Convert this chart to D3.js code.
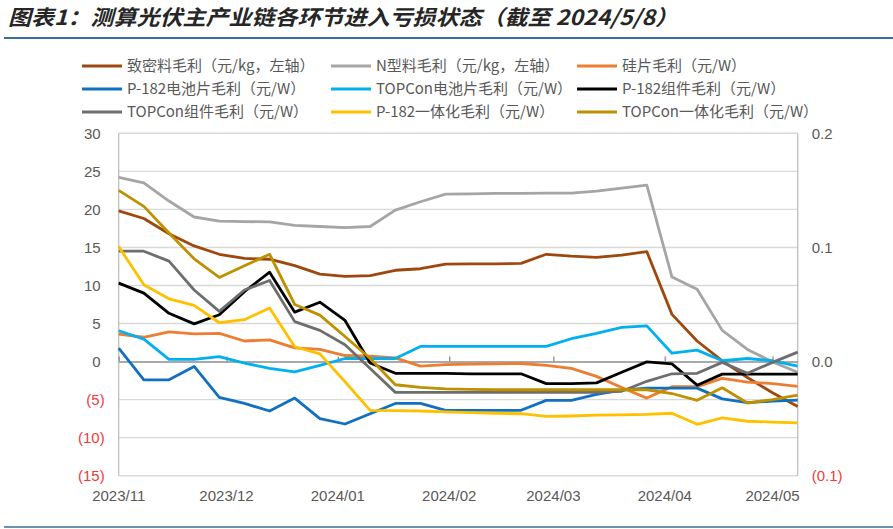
<!DOCTYPE html>
<html><head><meta charset="utf-8">
<script src="https://cdn.jsdelivr.net/npm/d3@7"></script>
<style>
html,body{margin:0;padding:0;background:#fff;}
svg{display:block;}
</style></head>
<body>
<svg id="chart" width="893" height="529"></svg>
<script>
// ---------- DATA ----------
const dates = ["2023-11-01","2023-11-08","2023-11-15","2023-11-22","2023-11-29","2023-12-06","2023-12-13","2023-12-20","2023-12-27",
"2024-01-03","2024-01-10","2024-01-17","2024-01-24","2024-01-31","2024-02-07","2024-02-14","2024-02-21","2024-02-28",
"2024-03-06","2024-03-13","2024-03-20","2024-03-27","2024-04-03","2024-04-10","2024-04-17","2024-04-24","2024-05-01","2024-05-08"];

// left axis (元/kg)
const polyDense = [19.8,18.8,16.8,15.2,14.1,13.55,13.45,12.6,11.5,11.2,11.3,12.0,12.2,12.8,12.85,12.85,12.9,14.1,13.85,13.7,14.0,14.45,6.2,2.7,0.1,-2.1,-4.1,-5.9];
const polyN = [24.2,23.5,21.1,19.0,18.45,18.4,18.35,17.9,17.75,17.6,17.75,19.9,21.0,22.0,22.05,22.1,22.1,22.15,22.15,22.4,22.8,23.2,11.1,9.5,4.1,1.6,-0.05,-1.4];
// right axis (元/W)
const wafer = [0.0240,0.0213,0.0260,0.0243,0.0247,0.0180,0.0190,0.0120,0.0107,0.0053,0.0047,0.0033,-0.0040,-0.0027,-0.0023,-0.0020,-0.0017,-0.0033,-0.0060,-0.0130,-0.0227,-0.0320,-0.0220,-0.0220,-0.0147,-0.0180,-0.0193,-0.0217];
const cellP182 = [0.0117,-0.0160,-0.0160,-0.0043,-0.0313,-0.0367,-0.0433,-0.0320,-0.0500,-0.0547,-0.0457,-0.0367,-0.0367,-0.0427,-0.0427,-0.0427,-0.0427,-0.0340,-0.0340,-0.0287,-0.0250,-0.0233,-0.0233,-0.0233,-0.0327,-0.0360,-0.0347,-0.0337];
const cellTOPCon = [0.0270,0.0197,0.0020,0.0020,0.0043,-0.0013,-0.0060,-0.0090,-0.0033,0.0027,0.0027,0.0027,0.0133,0.0133,0.0133,0.0133,0.0133,0.0133,0.0200,0.0247,0.0300,0.0313,0.0073,0.0100,0.0007,0.0027,0.0007,-0.0040];
const moduleP182 = [0.0687,0.0600,0.0423,0.0330,0.0410,0.0613,0.0783,0.0433,0.0520,0.0360,-0.0013,-0.0103,-0.0103,-0.0103,-0.0107,-0.0107,-0.0107,-0.0193,-0.0193,-0.0187,-0.0093,-0.0003,-0.0020,-0.0207,-0.0110,-0.0110,-0.0110,-0.0110];
const moduleTOPCon = [0.0967,0.0967,0.0880,0.0627,0.0440,0.0627,0.0710,0.0350,0.0273,0.0147,-0.0060,-0.0270,-0.0270,-0.0270,-0.0270,-0.0270,-0.0270,-0.0270,-0.0270,-0.0270,-0.0260,-0.0173,-0.0107,-0.0103,-0.0007,-0.0103,-0.0007,0.0083];
const integP182 = [0.1007,0.0673,0.0550,0.0493,0.0340,0.0367,0.0470,0.0130,0.0067,-0.0177,-0.0427,-0.0430,-0.0433,-0.0440,-0.0447,-0.0453,-0.0457,-0.0480,-0.0477,-0.0470,-0.0467,-0.0463,-0.0453,-0.0550,-0.0493,-0.0523,-0.0530,-0.0537];
const integTOPCon = [0.1500,0.1360,0.1127,0.0900,0.0737,0.0840,0.0940,0.0500,0.0407,0.0220,0.0027,-0.0203,-0.0227,-0.0240,-0.0243,-0.0247,-0.0247,-0.0247,-0.0247,-0.0247,-0.0247,-0.0247,-0.0280,-0.0340,-0.0230,-0.0363,-0.0333,-0.0293];

const seriesNames = ["致密料毛利（元/kg，左轴）","N型料毛利（元/kg，左轴）","硅片毛利（元/W）",
  "P-182电池片毛利（元/W）","TOPCon电池片毛利（元/W）","P-182组件毛利（元/W）",
  "TOPCon组件毛利（元/W）","P-182一体化毛利（元/W）","TOPCon一体化毛利（元/W）"];
const seriesColors = ["#9E480E","#A5A5A5","#ED7D31","#1170C0","#00B0F0","#000000","#6E6E6E","#FFC000","#BF9000"];
const seriesValues = [polyDense,polyN,wafer,cellP182,cellTOPCon,moduleP182,moduleTOPCon,integP182,integTOPCon];
const seriesAxis = ["L","L","R","R","R","R","R","R","R"];

const leftTicks = [30,25,20,15,10,5,0,-5,-10,-15];
const rightTicks = [0.2,0.1,0.0,-0.1];
const xTickDates = ["2023-11-01","2023-12-01","2024-01-01","2024-02-01","2024-03-01","2024-04-01","2024-05-01"];
const xTickLabels = ["2023/11","2023/12","2024/01","2024/02","2024/03","2024/04","2024/05"];
const title = "图表1：测算光伏主产业链各环节进入亏损状态（截至 2024/5/8）";

// ---------- LAYOUT ----------
const svg = d3.select("#chart");
const L = 118.7, R = 797.7, T = 133.3, B = 475.7;
const parse = d3.utcParse("%Y-%m-%d");
const x = d3.scaleUtc().domain([parse(dates[0]), parse(dates[dates.length-1])]).range([L, R]);
const yL = d3.scaleLinear().domain([-15, 30]).range([B, T]);
const yR = d3.scaleLinear().domain([-0.1, 0.2]).range([B, T]);
const FONT = "'Liberation Sans', Arial, 'Noto Sans CJK SC', sans-serif";
const CJK = "'Noto Sans CJK SC', 'Liberation Sans', sans-serif";

// title
svg.append("text").attr("x", 8).attr("y", 25)
  .attr("font-family", CJK).attr("font-size", 21).attr("font-weight", "bold")
  .attr("font-style", "italic").attr("fill", "#262626")
  .attr("textLength", 670).attr("lengthAdjust", "spacingAndGlyphs")
  .text(title);
svg.append("line").attr("x1", 4).attr("x2", 893).attr("y1", 38).attr("y2", 38)
  .attr("stroke", "#3B6E97").attr("stroke-width", 2.2);
svg.append("line").attr("x1", 4).attr("x2", 893).attr("y1", 527).attr("y2", 527)
  .attr("stroke", "#3B6E97").attr("stroke-width", 1.5);

// gridlines
svg.append("g").selectAll("line").data(leftTicks.filter(d => d !== 0)).join("line")
  .attr("x1", L).attr("x2", R).attr("y1", d => yL(d)).attr("y2", d => yL(d))
  .attr("stroke", "#D9D9D9").attr("stroke-width", 1.4);
// vertical axis lines
svg.append("line").attr("x1", L).attr("x2", L).attr("y1", T).attr("y2", B).attr("stroke", "#BFBFBF").attr("stroke-width", 1.3);
svg.append("line").attr("x1", R).attr("x2", R).attr("y1", T).attr("y2", B).attr("stroke", "#BFBFBF").attr("stroke-width", 1.3);

// x axis on zero line
const xAxis = d3.axisTop(x).tickValues(xTickDates.map(parse)).tickSize(5).tickSizeOuter(0).tickFormat("");
const gx = svg.append("g").attr("transform", `translate(0,${yL(0)})`).call(xAxis);
gx.select(".domain").attr("stroke", "#8C8C8C").attr("stroke-width", 1.6);
gx.selectAll(".tick line").attr("stroke", "#8C8C8C").attr("stroke-width", 1.3);

// x labels at bottom
svg.append("g").selectAll("text").data(xTickDates).join("text")
  .attr("x", d => x(parse(d))).attr("y", 501)
  .attr("text-anchor", "middle").attr("font-family", FONT).attr("font-size", 15).attr("fill", "#595959")
  .text((d, i) => xTickLabels[i]);

// left axis labels
const gyl = svg.append("g").attr("transform", `translate(${L},0)`)
  .call(d3.axisLeft(yL).tickValues(leftTicks).tickSize(0).tickPadding(14)
    .tickFormat(d => d < 0 ? `(${-d})` : `${d}`));
gyl.select(".domain").remove();
gyl.selectAll(".tick text").attr("font-family", FONT).attr("font-size", 15)
  .attr("fill", d => d < 0 ? "#F23A3A" : "#595959")
  .attr("dx", d => d < 0 ? 0 : -4);

// right axis labels
const gyr = svg.append("g").attr("transform", `translate(${R},0)`)
  .call(d3.axisRight(yR).tickValues(rightTicks).tickSize(0).tickPadding(14)
    .tickFormat(d => d < 0 ? `(${d3.format(".1f")(-d)})` : d3.format(".1f")(d)));
gyr.select(".domain").remove();
gyr.selectAll(".tick text").attr("font-family", FONT).attr("font-size", 15)
  .attr("fill", d => d < 0 ? "#F23A3A" : "#595959");

// lines
const gLines = svg.append("g");
seriesValues.forEach((vals, si) => {
  const ys = seriesAxis[si] === "L" ? yL : yR;
  const line = d3.line().x((d, i) => x(parse(dates[i]))).y(d => ys(d));
  gLines.append("path").datum(vals).attr("d", line)
    .attr("fill", "none").attr("stroke", seriesColors[si]).attr("stroke-width", 2.8)
    .attr("stroke-linejoin", "round").attr("stroke-linecap", "butt");
});

// legend
const legX = [82, 331, 577];
const legY = [66, 89, 112];
const leg = svg.append("g");
seriesNames.forEach((name, i) => {
  const cx = legX[i % 3], cy = legY[Math.floor(i / 3)];
  leg.append("line").attr("x1", cx).attr("x2", cx + 40).attr("y1", cy).attr("y2", cy)
    .attr("stroke", seriesColors[i]).attr("stroke-width", 3);
  leg.append("text").attr("x", cx + 45).attr("y", cy).attr("dy", "0.35em")
    .attr("font-family", CJK).attr("font-size", 15).attr("fill", "#595959").text(name);
});
</script>
</body></html>
